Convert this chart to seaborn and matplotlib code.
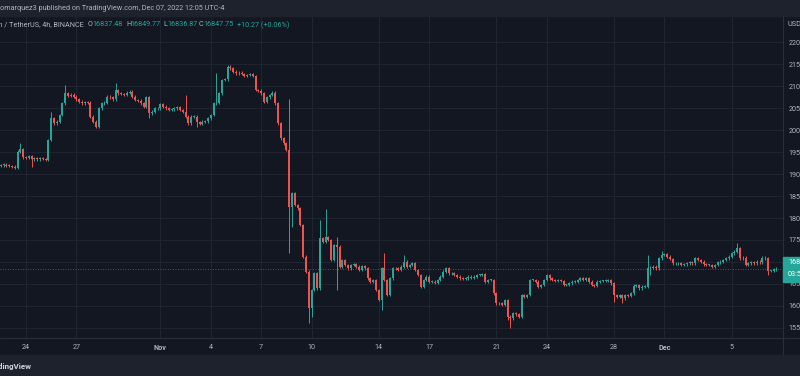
import numpy as np
import pandas as pd
import matplotlib
matplotlib.use("Agg")
import matplotlib.pyplot as plt
import matplotlib.dates as mdates
from matplotlib.patches import Rectangle
from matplotlib.lines import Line2D
import seaborn as sns

# BTC/USDT 4h candles (closes; open = previous close)
start = "2022-10-22 12:00"
closes = [
    19200, 19210, 19190, 19180, 19170, 19140,
    19508, 19570, 19380, 19360, 19400, 19330, 19360, 19330, 19360, 19340, 19320,
    19773, 20265, 20150, 20190, 20340, 20606, 20833,
    20773, 20800, 20758, 20697, 20644, 20606, 20640, 20621,
    20303, 20189, 20076, 20492, 20606, 20620, 20758, 20742, 20697,
    20909, 20833, 20818, 20795, 20850, 20871, 20758, 20682, 20667, 20606, 20530,
    20742, 20379, 20417, 20492, 20492, 20590, 20530, 20492, 20455, 20470, 20492, 20515, 20455, 20417,
    20303, 20151, 20303, 20303, 20180, 20136,
    20189, 20200, 20265, 20341, 20606, 20621, 20833, 21136, 21152, 21439,
    21402, 21326, 21288, 21303, 21273, 21227, 21250, 21265, 21227,
    20909, 20894, 20833, 20644, 20742, 20795, 20849, 20606, 20151, 19811, 19697, 19545,
    18258, 18561, 18296, 18220, 17841, 17121, 16780, 15947,
    16364, 16742, 16402, 17538, 17462, 17560, 17500, 17045, 17386, 17348,
    16894, 17045, 16932, 16856, 16932, 16954, 16894, 16818, 16909, 16856,
    16629, 16553, 16591, 16364, 16136, 16856, 16591, 16250, 16629, 16860,
    16856, 16818, 16894, 17008, 16894, 16932, 16970, 16818, 16705, 16439,
    16591, 16667, 16553, 16553, 16530, 16591, 16667, 16780, 16856, 16742,
    16742, 16705, 16667, 16629, 16614, 16629, 16667, 16644, 16667, 16705,
    16705, 16727, 16553, 16591, 16591, 16288, 16061, 16061, 16023, 16136,
    15758, 15720, 15833, 15810, 15758, 16250, 16212, 16250, 16591, 16591,
    16553, 16439, 16477, 16591, 16705, 16629, 16591, 16568, 16591, 16568,
    16477, 16477, 16515, 16553, 16553, 16591, 16629, 16591, 16629, 16553,
    16477, 16462, 16553, 16568, 16568, 16576, 16583, 16515, 16250, 16212,
    16250, 16174, 16250, 16235, 16288, 16462, 16477, 16402, 16439, 16439,
    16856, 16871, 16894, 16856, 17083, 17159, 17174, 17121, 17068, 16970,
    16970, 16970, 16932, 16947, 16970, 16992, 16970, 17083, 17045, 17008,
    16947, 16932, 16932, 16894, 16932, 16992, 17008, 17045, 17083, 17121,
    17197, 17235, 17320, 17083, 17098, 16932, 16970, 16992, 16970, 17008,
    16992, 17098, 17083, 16795, 16795, 16833, 16847.75,
]
first_open = 19190
wick_pad = 30
# candles whose wicks stick out visibly: index -> price
wick_high = {7: 19700, 18: 20417, 23: 21023, 41: 21076, 66: 20795, 77: 21290,
             81: 21477, 103: 20697, 114: 17955, 116: 18197, 120: 17576,
             137: 17197, 144: 17159, 231: 17159, 236: 17250, 263: 17424}
wick_low = {11: 19167, 34: 20038, 53: 20265, 70: 20076, 103: 17197, 104: 17800,
            110: 15606, 111: 15757, 120: 16364, 136: 15909, 150: 16402,
            181: 15682, 182: 15492, 219: 16098, 222: 16061, 232: 16705, 274: 16705}

tick_dates = ["2022-10-24", "2022-10-27", "2022-11-01", "2022-11-04", "2022-11-07",
              "2022-11-10", "2022-11-14", "2022-11-17", "2022-11-21", "2022-11-24",
              "2022-11-28", "2022-12-01", "2022-12-05"]
tick_labels = ["24", "27", "Nov", "4", "7", "10", "14", "17", "21", "24", "28", "Dec", "5"]
price_ticks = [15500, 16000, 16500, 17000, 17500, 18000, 18500, 19000,
               19500, 20000, 20500, 21000, 21500, 22000]
last_price = 16847.75

UP, DOWN = "#26a69a", "#ef5350"
BG, PANEL, GRID, TXT = "#131722", "#1e222d", "#1f2430", "#b2b5be"
FS = 5.2

df = pd.DataFrame({"time": pd.date_range(start, periods=len(closes), freq="4h"),
                   "close": closes})
df["open"] = [first_open] + closes[:-1]
df["high"] = [wick_high.get(i, max(o, c) + wick_pad) for i, (o, c) in enumerate(zip(df.open, df.close))]
df["low"] = [wick_low.get(i, min(o, c) - wick_pad) for i, (o, c) in enumerate(zip(df.open, df.close))]
df["x"] = mdates.date2num(df["time"])
df["color"] = np.where(df.close >= df.open, UP, DOWN)

sns.set_theme(style="dark", rc={"axes.facecolor": BG, "figure.facecolor": BG})
plt.rcParams["font.family"] = ["Roboto", "DejaVu Sans"]

W, H = 800, 376
fx = lambda px: px / W
fy = lambda py: 1 - py / H

fig = plt.figure(figsize=(8, 3.76), dpi=100)
fig.patch.set_facecolor(BG)
ax = fig.add_axes([0, fy(338), fx(783), (338 - 16) / H])

body = (df.close - df.open).abs().clip(lower=18)
ax.vlines(df.x, df.low, df.high, colors=df.color, linewidth=0.7, zorder=2)
ax.bar(df.x, body, bottom=df[["open", "close"]].min(axis=1), width=0.125,
       color=df.color, linewidth=0, zorder=3)

ax.axhline(last_price, color=UP, lw=0.6, ls=(0, (1, 2)), alpha=0.8, zorder=1)

day0 = mdates.date2num(pd.Timestamp("2022-10-24"))
ax.set_xlim(day0 - 26 / 16.8, day0 + (783 - 26) / 16.8)
ax.set_ylim(22000 - (338 - 42) / 0.044, 22000 + (42 - 16) / 0.044)

ax.set_xticks(mdates.date2num(pd.to_datetime(tick_dates)))
ax.set_xticklabels(tick_labels)
for lab in ax.get_xticklabels():
    if lab.get_text() in ("Nov", "Dec"):
        lab.set_fontweight("bold")
ax.yaxis.tick_right()
ax.set_yticks(price_ticks)
ax.set_yticklabels([f"{p:.2f}" for p in price_ticks])
ax.tick_params(axis="x", length=0, pad=4, labelsize=FS, labelcolor=TXT)
ax.tick_params(axis="y", length=0, pad=4, labelsize=FS, labelcolor=TXT)
ax.grid(True, color=GRID, lw=0.8)
for s in ax.spines.values():
    s.set_visible(False)

# panels and borders
fig.patches.append(Rectangle((0, fy(16)), 1, 16 / H, transform=fig.transFigure,
                             color=PANEL, zorder=0))
fig.patches.append(Rectangle((0, 0), 1, 21 / H, transform=fig.transFigure,
                             color=PANEL, zorder=0))
fig.lines.append(Line2D([0, 1], [fy(338), fy(338)], transform=fig.transFigure, color="#2a2e39", lw=0.8))
fig.lines.append(Line2D([fx(783), fx(783)], [fy(16), fy(355)], transform=fig.transFigure, color="#2a2e39", lw=0.8))

# price label box
fig.patches.append(Rectangle((fx(783), fy(282)), fx(17), 25 / H, transform=fig.transFigure,
                             color=UP, zorder=5))
fig.text(fx(788), fy(263), f"{last_price:.2f}", color="white", fontsize=FS, va="center", zorder=6)
fig.text(fx(788), fy(275), "03:54:58", color="white", fontsize=FS, va="center", zorder=6)
fig.text(fx(788), fy(24), "USDT", color=TXT, fontsize=FS, va="center")

# header texts
fig.text(0, fy(8), "omarquez3 published on TradingView.com, Dec 07, 2022 12:05 UTC-4",
         color=TXT, fontsize=FS, va="center")
fig.text(fx(84), fy(25), "Bitcoin / TetherUS, 4h, BINANCE", color=TXT, fontsize=FS,
         va="center", ha="right")
ohlc = [("O", "16837.48", 88), ("H", "16849.77", 126), ("L", "16836.87", 163), ("C", "16847.75", 199)]
for letter, val, px in ohlc:
    fig.text(fx(px), fy(25), letter, color=TXT, fontsize=FS, va="center")
    fig.text(fx(px + 4), fy(25), val, color=UP, fontsize=FS, va="center")
fig.text(fx(237), fy(25), "+10.27 (+0.06%)", color=UP, fontsize=FS, va="center")
fig.text(fx(32), fy(366), "TradingView", color="#d1d4dc", fontsize=5.8, va="center",
         ha="right", fontweight="bold")

fig.savefig("out.png", dpi=100, facecolor=BG)
